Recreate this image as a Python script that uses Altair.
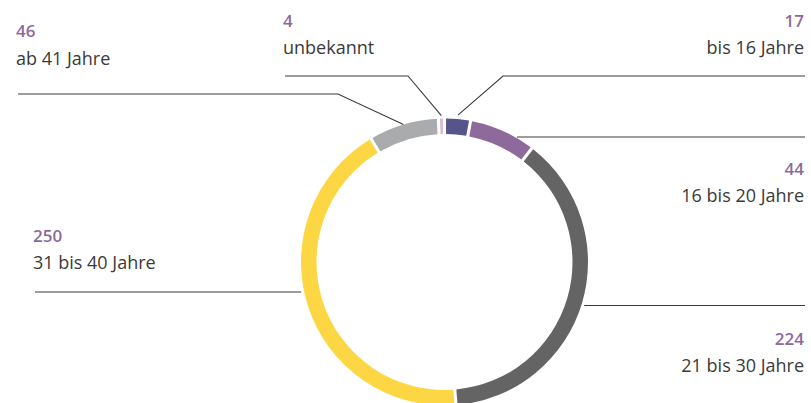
import altair as alt
import pandas as pd
import numpy as np

# ---- data ----
categories = ["bis 16 Jahre", "16 bis 20 Jahre", "21 bis 30 Jahre",
              "31 bis 40 Jahre", "ab 41 Jahre", "unbekannt"]
values = [17, 44, 224, 250, 46, 4]
colors = ["#56548a", "#8d6a9b", "#646464", "#fdd644", "#aaabad", "#d7bcd7"]

# ---- annotation layout (label placement) ----
label_side = ["right", "right", "right", "left", "left", "left"]
label_x = [804, 804, 804, 33, 16, 283]
number_y = [27, 175, 345, 242, 37, 27]
text_y = [54, 202, 372, 269, 65, 54]

CX, CY, R_OUT, R_IN = 444.5, 262.0, 143.5, 128.0
W, H = 811, 403

# leader lines: ("arc", radial offset) anchors at the slice middle,
# ("ring", y, gap, side) anchors where a horizontal line meets the ring
leaders = [
    [("arc", 4), (503, 76), (805, 76)],
    [("ring", 137, 2, "right"), (805, 137)],
    [("ring", 305.5, 3, "right"), (805, 305.5)],
    [(35, 292), ("ring", 292, 3, "left")],
    [(18, 94), (338, 94), ("arc", 0)],
    [(285, 76), (408, 76), ("arc", 3)],
]

total = sum(values)
cum = np.cumsum(values)
mid = [(c - v / 2) / total * 2 * np.pi for c, v in zip(cum, values)]

rows = []
for i, pts in enumerate(leaders):
    for j, p in enumerate(pts):
        if p[0] == "arc":
            rr = R_OUT + p[1]
            px, py = CX + rr * np.sin(mid[i]), CY - rr * np.cos(mid[i])
        elif p[0] == "ring":
            dy = CY - p[1]
            dx = np.sqrt(R_OUT ** 2 - dy ** 2) + p[2]
            px = CX + dx if p[3] == "right" else CX - dx
            py = p[1]
        else:
            px, py = p
        rows.append({"seg": i, "ord": j, "px": float(px), "py": float(py)})
lines_df = pd.DataFrame(rows)

df = pd.DataFrame({
    "cat": categories, "value": values, "idx": list(range(len(values))),
    "side": label_side, "lx": label_x, "ny": number_y, "ty": text_y,
    "num": [str(v) for v in values],
})

xs = alt.Scale(domain=[0, W], nice=False, zero=False)
ys = alt.Scale(domain=[H, 0], nice=False, zero=False)

arc = alt.Chart(df).mark_arc(
    outerRadius=R_OUT, innerRadius=R_IN, padAngle=0.016
).encode(
    theta=alt.Theta("value:Q", stack=True),
    order=alt.Order("idx:Q"),
    color=alt.Color("cat:N", scale=alt.Scale(domain=categories, range=colors), legend=None),
    x=alt.value(CX), y=alt.value(CY),
)

lines = alt.Chart(lines_df).mark_line(color="#3a3a3a", strokeWidth=1.1).encode(
    x=alt.X("px:Q", scale=xs, axis=None),
    y=alt.Y("py:Q", scale=ys, axis=None),
    detail="seg:N",
    order="ord:Q",
)

FONT = "Open Sans"

def texts(side, align):
    base = alt.Chart(df).transform_filter(alt.datum.side == side)
    nums = base.mark_text(align=align, baseline="alphabetic", font=FONT, fontSize=17,
                          fontWeight=600, color="#8d6a9b").encode(
        x=alt.X("lx:Q", scale=xs, axis=None), y=alt.Y("ny:Q", scale=ys, axis=None), text="num:N")
    labs = base.mark_text(align=align, baseline="alphabetic", font=FONT, fontSize=18,
                          color="#3a3a3a").encode(
        x=alt.X("lx:Q", scale=xs, axis=None), y=alt.Y("ty:Q", scale=ys, axis=None), text="cat:N")
    return nums + labs

chart = alt.layer(lines, arc, texts("left", "left"), texts("right", "right")).properties(
    width=W, height=H, padding=0, autosize=alt.AutoSizeParams(type="none"),
    background="white",
).configure_view(stroke=None)

chart.save("out.html", embed_options={"renderer": "svg", "actions": False})
